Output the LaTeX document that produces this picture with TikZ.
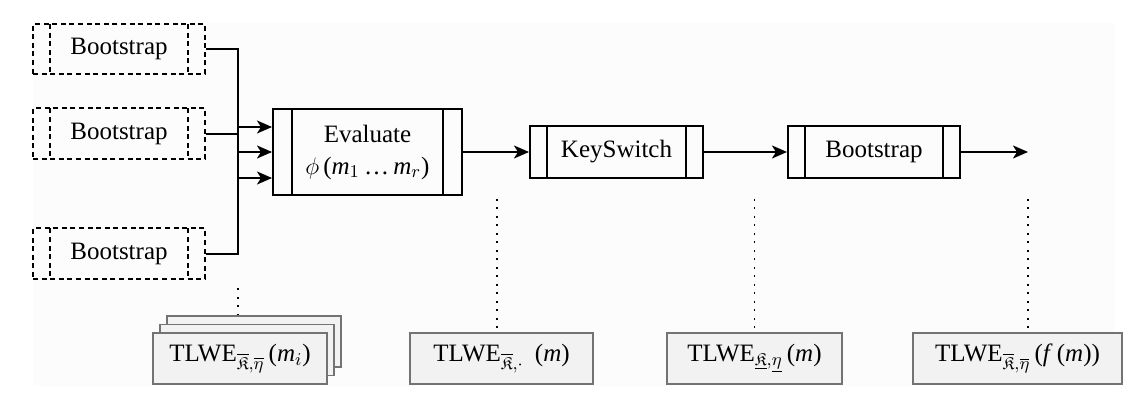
\documentclass[tikz,border=0pt]{standalone}
\usepackage{amsmath,amssymb}
\usepackage{fontspec}
\setmainfont{Liberation Serif}
\usetikzlibrary{arrows.meta,calc}
\definecolor{bgpaper}{HTML}{FCFCFC}
\definecolor{datafill}{HTML}{F2F2F2}
\definecolor{dataline}{HTML}{737373}
\newcommand{\vi}[1]{\textit{#1}}
\begin{document}
\begin{tikzpicture}
      [x=0.5pt,y=-0.5pt,line width=1pt,font=\fontsize{12.5}{15}\selectfont,
      >={Stealth[length=7.5pt,width=6.5pt,inset=2pt]},
      proc node/.style={draw,rectangle,inner sep=0pt,align=center,
        path picture={
          \draw ([xshift=#1]path picture bounding box.north west)
            -- ([xshift=#1]path picture bounding box.south west);
          \draw ([xshift=-#1]path picture bounding box.north east)
            -- ([xshift=-#1]path picture bounding box.south east);}},
      proc node/.default=8.5pt,
      ghost node/.style={proc node,dash pattern=on 2.5pt off 1.8pt},
      data node/.style={draw=dataline,fill=datafill,line width=0.75pt,
        rectangle,inner sep=0pt,minimum height=25.5pt},
      dot line/.style={line width=0.85pt,dash pattern=on 0.85pt off 3.4pt}]
      \useasboundingbox (0,0) rectangle (1136,416);
      \fill[bgpaper] (33,23) rectangle (1115,386);
      % input bootstraps
      \node[ghost node,minimum width=86pt,minimum height=25pt] (bs1) at (119,49) {Bootstrap};
      \node[ghost node,minimum width=86pt,minimum height=25.5pt] (bs2) at (119,134) {Bootstrap};
      \node[ghost node,minimum width=86pt,minimum height=25.5pt] (bs3) at (119,254) {Bootstrap};
      % main chain
      \node[proc node=9.5pt,minimum width=94.5pt,minimum height=43pt] (eval) at (367.5,152)
        {Evaluate\\[1pt]$\phi\,$(\vi{m}$_1$\,\dots\,\vi{m}$_r$)};
      \node[proc node,minimum width=86.5pt,minimum height=26pt] (ks) at (616.5,152) {KeySwitch};
      \node[proc node,minimum width=86pt,minimum height=26pt] (bsout) at (874,152) {Bootstrap};
      \coordinate (out) at (1028,152);
      \coordinate (jn) at (238,152);
      % ciphertext types
      \node[data node,minimum width=87pt] (in3) at (254,341.5) {};
      \node[data node,minimum width=87pt] (in2) at (247,350) {};
      \node[data node,minimum width=87pt] (in1) at (240,358.5)
        {TLWE$_{\overline{\mathfrak{K}},\overline{\eta}}$\,(\vi{m}$_i$)};
      \node[data node,minimum width=91.5pt] (mid1) at (501.5,358.5)
        {TLWE$_{\overline{\mathfrak{K}},\cdot}$\;\,(\vi{m})};
      \node[data node,minimum width=87.5pt] (ks1) at (754.5,358.5)
        {TLWE$_{\underline{\mathfrak{K}},\underline{\eta}}$\,(\vi{m})};
      \node[data node,minimum width=104.5pt] (out1) at (1017.5,358.5)
        {TLWE$_{\overline{\mathfrak{K}},\overline{\eta}}$\,(\vi{f}\,(\vi{m}))};
      % connectors
      \draw[->] (bs1.east) -| (jn) |- ([yshift=12.5pt]eval.west);
      \draw[->] (bs2.east) -| (jn) |- (eval.west);
      \draw[->] (bs3.east) -| (jn) |- ([yshift=-13pt]eval.west);
      \draw[->] (eval) -- (ks);
      \draw[->] (ks) -- (bsout);
      \draw[->] (bsout) -- (out);
      % dotted guides
      \coordinate (d1) at (497,199);
      \draw[dot line] ([yshift=-4pt]bs3.south -| jn) -- (in3.north -| jn);
      \draw[dot line] (d1) -- (d1 |- mid1.north);
      \draw[dot line] (ks1.north |- d1) -- (ks1.north);
      \draw[dot line] (out |- d1) -- (out |- out1.north);
\end{tikzpicture}
\end{document}
